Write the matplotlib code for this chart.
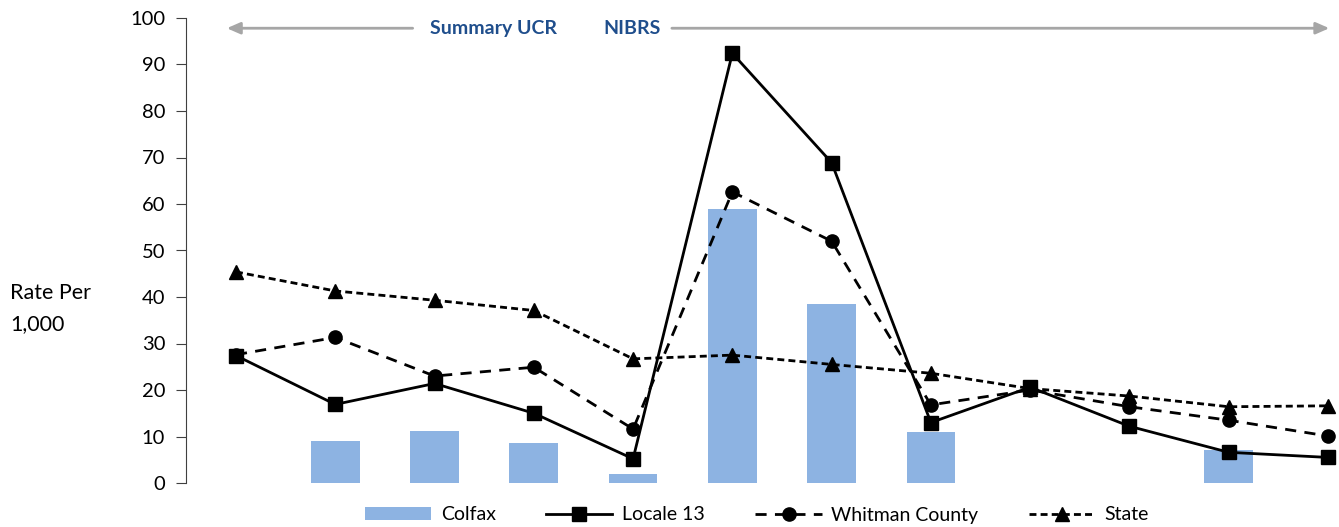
import matplotlib.pyplot as plt
import numpy as np

plt.rcParams['font.family'] = ['Lato', 'DejaVu Sans']

# twelve periods, no labels on the x axis in the original
periods = list(range(12))
colfax = [0, 9.0, 11.2, 8.5, 2.0, 58.9, 38.5, 10.9, 0, 0, 7.0, 0]
locale13 = [27.4, 16.9, 21.4, 15.0, 5.2, 92.4, 68.9, 13.0, 20.6, 12.2, 6.6, 5.5]
whitman = [27.6, 31.3, 23.0, 24.9, 11.6, 62.6, 52.0, 16.8, 20.0, 16.4, 13.5, 10.1]
state = [45.4, 41.3, 39.3, 37.1, 26.7, 27.5, 25.5, 23.6, 20.3, 18.7, 16.4, 16.6]

fig = plt.figure(figsize=(13.39, 5.27), dpi=100)
ax = fig.add_axes([186 / 1339, 1 - 483 / 527, 1 - 186 / 1339, (483 - 18) / 527])

ax.bar(periods, colfax, width=0.49, color='#8DB3E2', label='Colfax', zorder=1)
ax.plot(periods, locale13, color='black', lw=2, marker='s', ms=10,
        label='Locale 13', zorder=3)
ax.plot(periods, whitman, color='black', lw=2, ls=(0, (4, 3)), marker='o', ms=9.5,
        label='Whitman County', zorder=3)
ax.plot(periods, state, color='black', lw=2, ls=(0, (2.5, 1.5)), marker='^', ms=9.5,
        label='State', zorder=3)

step = 99.27
x0 = -(236 - 186) / step
ax.set_xlim(x0, x0 + (1339 - 186) / step)
ax.set_ylim(0, 100)
ax.set_yticks(np.arange(0, 101, 10))
ax.set_xticks([])
for s in ['top', 'right', 'bottom']:
    ax.spines[s].set_visible(False)
ax.spines['left'].set_color('#404040')
ax.tick_params(axis='y', length=7, color='#404040', labelsize=14.5, pad=8)

fig.text(10 / 1339, 1 - 293 / 527, 'Rate Per', fontsize=15.5, va='center', ha='left')
fig.text(10 / 1339, 1 - 324 / 527, '1,000', fontsize=15.5, va='center', ha='left')

# header: reporting system arrows
arrow_kw = dict(arrowstyle='-|>,head_length=0.8,head_width=0.35', color='#A6A6A6', lw=2)
ax.annotate('', xy=(0.033, 0.978), xytext=(0.199, 0.978), xycoords='axes fraction',
            arrowprops=arrow_kw)
ax.annotate('', xy=(0.994, 0.978), xytext=(0.419, 0.978), xycoords='axes fraction',
            arrowprops=arrow_kw)
ax.text(0.267, 0.978, 'Summary UCR', transform=ax.transAxes, ha='center', va='center',
        fontsize=14, fontweight='bold', color='#1F4E8C')
ax.text(0.387, 0.978, 'NIBRS', transform=ax.transAxes, ha='center', va='center',
        fontsize=14, fontweight='bold', color='#1F4E8C')

handles, labels = ax.get_legend_handles_labels()
order = [labels.index(n) for n in ['Colfax', 'Locale 13', 'Whitman County', 'State']]
fig.legend([handles[i] for i in order], [labels[i] for i in order],
           loc='center', bbox_to_anchor=(757 / 1339, 1 - 515 / 527), ncol=4,
           frameon=False, fontsize=14, handlelength=3.4, columnspacing=2.6,
           handletextpad=0.5, handleheight=0.6)

fig.savefig('out.png', dpi=100)
